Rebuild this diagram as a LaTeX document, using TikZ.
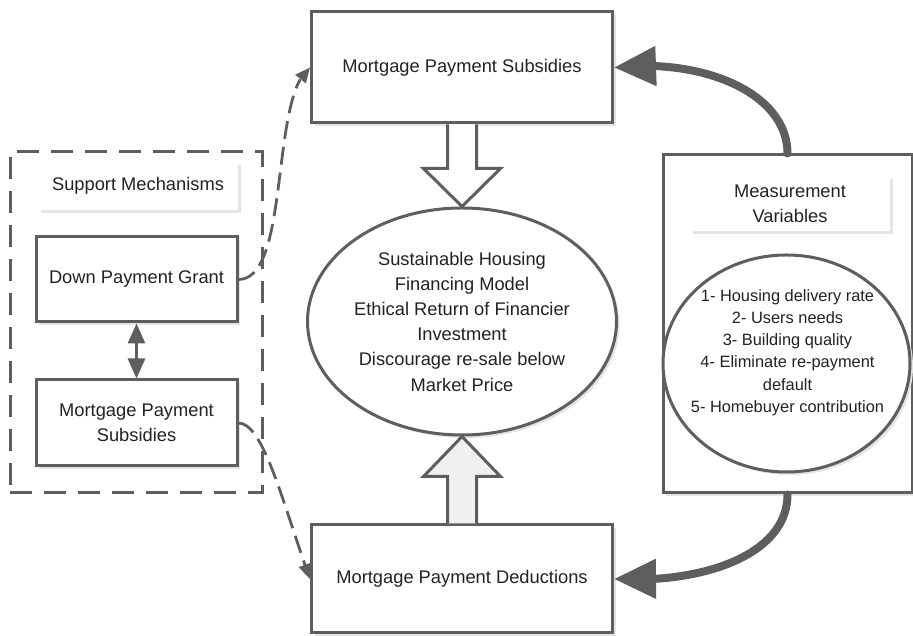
\documentclass[tikz,border=0pt]{standalone}
\usepackage{fontspec}
\setmainfont{Liberation Sans}
\usetikzlibrary{arrows.meta,bending,shapes.geometric,shadows,calc}

\definecolor{linegray}{HTML}{5E5E5E}
\definecolor{textgray}{HTML}{222222}
\definecolor{shadegray}{HTML}{E4E4E4}
\definecolor{arrowfill}{HTML}{F0F0F0}

\begin{document}
\begin{tikzpicture}[x=1pt,y=1pt,
    every node/.style={text=textgray,font=\fontsize{18.3}{25.2}\selectfont},
    boxshadow/.style={drop shadow={shadow xshift=3pt,shadow yshift=-3pt,fill=shadegray,opacity=1}},
    mainbox/.style={draw=linegray,line width=3pt,fill=white,boxshadow,inner sep=0pt,align=center},
    groupbox/.style={draw=linegray,line width=3pt,dash pattern=on 22pt off 12pt,inner sep=0pt},
    titlebox/.style={fill=white,boxshadow,inner sep=0pt,align=center},
    ovalbox/.style={ellipse,draw=linegray,line width=3pt,fill=white,boxshadow,inner sep=0pt,align=center},
    blockarr/.style={draw=linegray,line width=3pt,line join=miter},
    flowarr/.style={draw=linegray,line width=8pt,line cap=round,-{Triangle[length=42pt,width=38pt,flex]}},
    linkarr/.style={draw=linegray,line width=2.8pt,dash pattern=on 18pt off 8pt,-{Triangle[length=15pt,width=13pt]}}
  ]
    \useasboundingbox (0,0) rectangle (913,636);

    % centre column
    \node[mainbox,minimum width=301pt,minimum height=111pt] (mps) at (462,568.5) {Mortgage Payment Subsidies};
    \node[mainbox,minimum width=301pt,minimum height=108pt] (mpd) at (462,57) {Mortgage Payment Deductions};
    \node[ovalbox,minimum width=309pt,minimum height=227pt] (model) at (462,314.5)
        {Sustainable Housing\\Financing Model\\Ethical Return of Financier\\Investment\\Discourage re-sale below\\Market Price};

    % support mechanisms
    \node[groupbox,minimum width=252pt,minimum height=341pt] (support) at (136,313.5) {};
    \node[titlebox,minimum width=200pt,minimum height=48pt] (supporttitle) at (138,450) {Support Mechanisms};
    \node[mainbox,minimum width=201pt,minimum height=85pt] (grant) at (136.5,356.5) {Down Payment Grant};
    \node[mainbox,minimum width=201pt,minimum height=86pt] (subsidy) at (136.5,213) {Mortgage Payment\\Subsidies};

    % measurement variables
    \node[mainbox,minimum width=249pt,minimum height=338pt] (measure) at (787.5,312) {};
    \node[titlebox,minimum width=200pt,minimum height=55pt] (measuretitle) at (790,432) {Measurement\\Variables};
    \node[ovalbox,minimum width=247pt,minimum height=217pt] (vars) at (786.5,272.5) {};
    \node[align=center,font=\fontsize{16.4}{22.2}\selectfont] (varlist) at (787.5,283.5)
        {1- Housing delivery rate\\2- Users needs\\3- Building quality\\4- Eliminate re-payment\\default\\5- Homebuyer contribution};

    % block arrows
    \draw[blockarr,fill=white] ($(mps.south)+(-14.5,0)$) -- ($(model.north)+(-14.5,38)$) -- ($(model.north)+(-38.5,38)$)
        -- (model.north) -- ($(model.north)+(38.5,38)$) -- ($(model.north)+(14.5,38)$) -- ($(mps.south)+(14.5,0)$);
    \draw[blockarr,fill=arrowfill] ($(mpd.north)+(-14.5,0)$) -- ($(model.south)+(-14.5,-40)$) -- ($(model.south)+(-38.5,-40)$)
        -- (model.south) -- ($(model.south)+(38.5,-40)$) -- ($(model.south)+(14.5,-40)$) -- ($(mpd.north)+(14.5,0)$);

    \draw[linegray,line width=3pt,{Triangle[length=20pt,width=17pt]}-{Triangle[length=20pt,width=17pt]}] (grant) -- (subsidy);

    % dashed links
    \draw[linkarr] (grant.east) .. controls +(52,0) and +(-40,-28) .. (mps.west);
    \draw[linkarr] (subsidy.east) .. controls +(25,0) and +(-27,75) .. (mpd.west);

    % feedback arrows
    \draw[flowarr] (measure.north) .. controls +(0,60) and +(90,10) .. (mps.east);
    \draw[flowarr] (measure.south) .. controls +(0,-60) and +(90,-5) .. (mpd.east);
\end{tikzpicture}
\end{document}
